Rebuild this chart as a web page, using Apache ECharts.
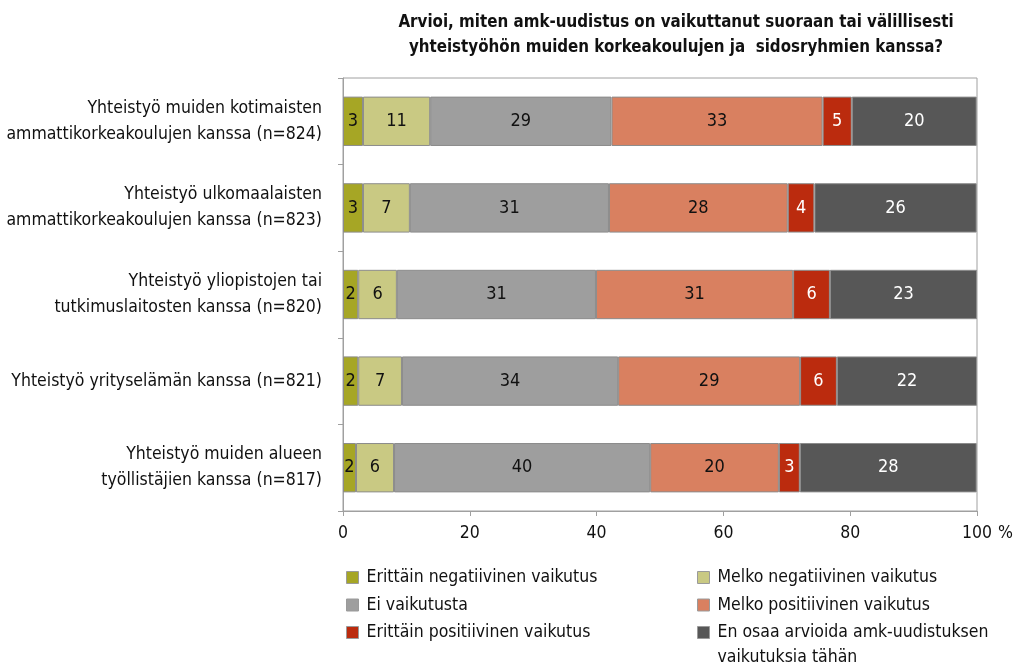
<!DOCTYPE html>
<html>
<head>
<meta charset="utf-8">
<script src="https://cdn.jsdelivr.net/npm/echarts@6/dist/echarts.min.js"></script>
<style>
  html, body { margin: 0; padding: 0; background: #fff; }
  #chart { width: 1014px; height: 666px; }
</style>
</head>
<body>
<div id="chart"></div>
<script>
// kategoriat (ylhäältä alas)
const categories = [
  'Yhteistyö muiden kotimaisten\nammattikorkeakoulujen kanssa (n=824)',
  'Yhteistyö ulkomaalaisten\nammattikorkeakoulujen kanssa (n=823)',
  'Yhteistyö yliopistojen tai\ntutkimuslaitosten kanssa (n=820)',
  'Yhteistyö yrityselämän kanssa (n=821)',
  'Yhteistyö muiden alueen\ntyöllistäjien kanssa (n=817)'
]

// vastausten osuudet, %
const erittainNeg = [3.15, 3.15, 2.4, 2.4, 2.05]
const melkoNeg = [10.6, 7.4, 6.1, 6.9, 6.0]
const eiVaikutusta = [28.6, 31.4, 31.4, 34.1, 40.4]
const melkoPos = [33.3, 28.2, 31.1, 28.7, 20.3]
const erittainPos = [4.6, 4.2, 5.8, 5.8, 3.3]
const enOsaa = [19.7, 25.6, 23.2, 22.1, 27.9]

const xTicks = [0, 20, 40, 60, 80, 100]

const FONT = '"DejaVu Sans Condensed", "Liberation Sans Narrow", sans-serif'

const seriesDefs = [
  { name: 'Erittäin negatiivinen vaikutus', data: erittainNeg, color: '#a6a625', text: '#111' },
  { name: 'Melko negatiivinen vaikutus', data: melkoNeg, color: '#c9c983', text: '#111' },
  { name: 'Ei vaikutusta', data: eiVaikutusta, color: '#9e9e9e', text: '#111' },
  { name: 'Melko positiivinen vaikutus', data: melkoPos, color: '#d98060', text: '#111' },
  { name: 'Erittäin positiivinen vaikutus', data: erittainPos, color: '#bb2b0e', text: '#fff' },
  { name: 'En osaa arvioida amk-uudistuksen vaikutuksia tähän', data: enOsaa, color: '#575757', text: '#fff' }
]

const chart = echarts.init(document.getElementById('chart'))

// legenda kahdessa sarakkeessa, yksi kohta per legend-komponentti
const legends = seriesDefs.map((d, i) => {
  const twoLines = d.name.includes('amk-uudistuksen ')
  return {
    data: [d.name],
    left: i % 2 === 0 ? 346 : 697,
    // kaksirivisessä kohdassa tyhjä rivi yläpuolella, jotta ikoni osuu ensimmäiselle riville
    top: 565 + Math.floor(i / 2) * 27.5 - (twoLines ? 25 : 0),
    padding: 0,
    itemWidth: 12, itemHeight: 12, itemGap: 0, icon: 'rect',
    itemStyle: { borderColor: '#9a9a9a', borderWidth: 1 },
    textStyle: {
      fontFamily: FONT, fontSize: 17.5, color: '#111', lineHeight: 25,
      padding: [0, 0, 0, 3]
    },
    formatter: name => twoLines ? ' \n' + name.replace('amk-uudistuksen ', 'amk-uudistuksen\n') : name
  }
})

const option = {
  animation: false,
  title: {
    text: 'Arvioi, miten amk-uudistus on vaikuttanut suoraan tai välillisesti\nyhteistyöhön muiden korkeakoulujen ja  sidosryhmien kanssa?',
    left: 671,
    top: 5,
    textAlign: 'center',
    textStyle: { fontFamily: FONT, fontSize: 16.8, fontWeight: 'bold', color: '#111', lineHeight: 25, align: 'center' }
  },
  grid: {
    left: 343, right: 37, top: 78, bottom: 155,
    outerBoundsMode: 'none',
    show: true, borderColor: '#a0a0a0', borderWidth: 1
  },
  legend: legends,
  xAxis: {
    type: 'value', min: 0, max: 100, interval: 20,
    name: '%', nameLocation: 'end', nameGap: 7,
    nameTextStyle: { fontFamily: FONT, fontSize: 17.5, color: '#111', verticalAlign: 'top', padding: [13, 0, 0, 0] },
    axisLine: { show: true, lineStyle: { color: '#a0a0a0' } },
    axisTick: { show: true, length: 5, lineStyle: { color: '#a0a0a0' } },
    splitLine: { show: false },
    axisLabel: {
      fontFamily: FONT, fontSize: 17.5, color: '#111', margin: 13,
      formatter: v => xTicks.includes(v) ? String(v) : ''
    }
  },
  yAxis: {
    type: 'category', data: categories, inverse: true,
    axisLine: { show: true, lineStyle: { color: '#a0a0a0' } },
    axisTick: { show: true, length: 5, lineStyle: { color: '#a0a0a0' } },
    axisLabel: { fontFamily: FONT, fontSize: 17.5, color: '#111', lineHeight: 26, margin: 21, align: 'right' }
  },
  series: seriesDefs.map(d => ({
    name: d.name,
    type: 'bar',
    stack: 'total',
    data: d.data,
    barCategoryGap: '43%',
    itemStyle: { color: d.color, borderColor: '#8c8c8c', borderWidth: 1 },
    label: {
      show: true, position: 'inside',
      fontFamily: FONT, fontSize: 18, color: d.text,
      formatter: p => String(Math.round(p.value))
    }
  }))
}

chart.setOption(option)
</script>
</body>
</html>
